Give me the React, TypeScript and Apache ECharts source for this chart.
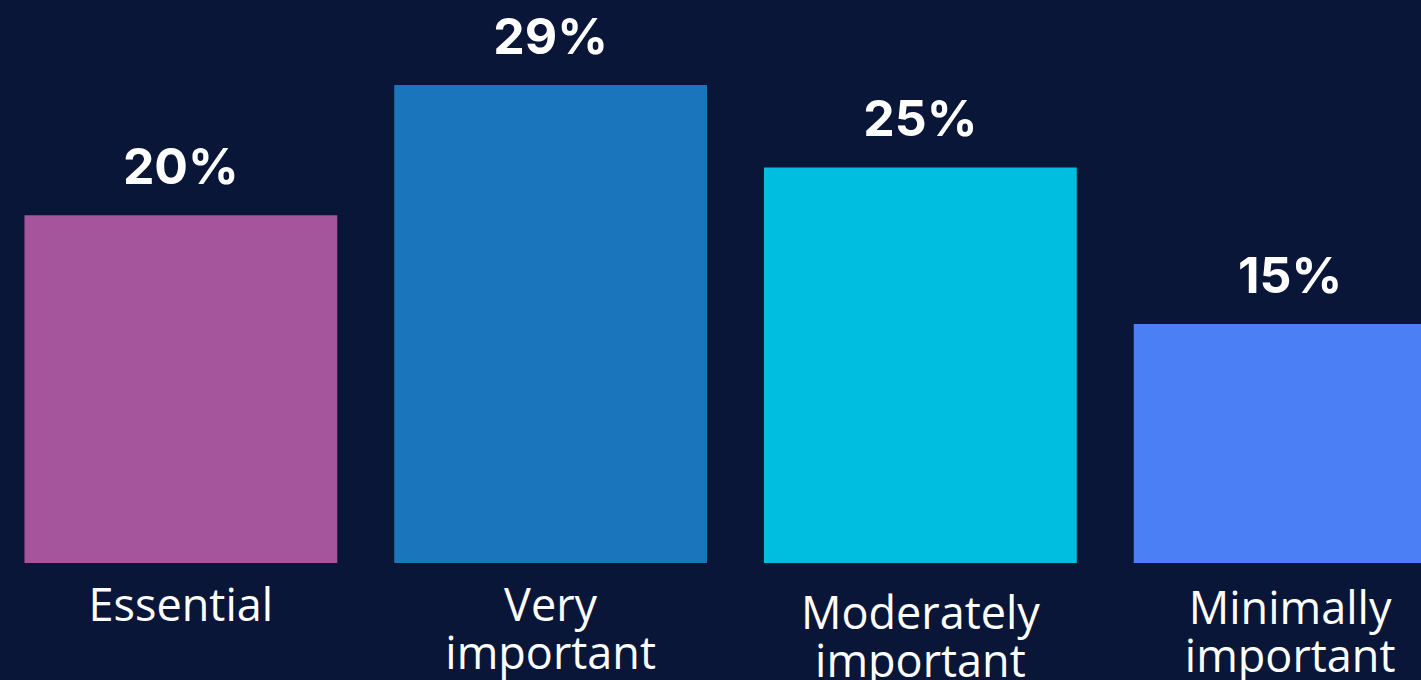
import React, { useEffect, useRef } from "react";
import * as echarts from "echarts";

const categories = ["Essential", "Very\nimportant", "Moderately\nimportant", "Minimally\nimportant"];
const values = [21.1, 29, 24, 14.5];
const valueLabels = ["20%", "29%", "25%", "15%"];
const colors = ["#a4559b", "#1b75bc", "#00bedf", "#4b7ff5"];
const labelOffsets = [0, 0, 8, 3];

export default function App() {
  const ref = useRef<HTMLDivElement>(null);
  useEffect(() => {
    if (!ref.current) return;
    document.body.style.margin = "0";
    document.body.style.overflow = "hidden";
    const chart = echarts.init(ref.current, null, { renderer: "svg" });
    chart.setOption({
      animation: false,
      backgroundColor: "#0a1638",
      grid: {
        left: 0,
        right: 0,
        top: 68.5,
        bottom: 117,
        containLabel: false,
        outerBoundsMode: "none",
      },
      xAxis: {
        type: "category",
        data: categories.map((c, i) => ({
          value: c,
          textStyle: { padding: [labelOffsets[i], 0, 0, 0] },
        })),
        axisLine: { show: false },
        axisTick: { show: false },
        axisLabel: {
          color: "#ffffff",
          fontFamily: "Open Sans",
          fontSize: 45,
          lineHeight: 48,
          margin: 16,
          interval: 0,
        },
      },
      yAxis: {
        type: "value",
        min: 0,
        max: 30,
        show: false,
        splitLine: { show: false },
      },
      series: [
        {
          type: "bar",
          barCategoryGap: "15.4%",
          data: values.map((v, i) => ({ value: v, itemStyle: { color: colors[i] } })),
          label: {
            show: true,
            position: "top",
            distance: 24,
            color: "#ffffff",
            fontFamily: "Inter",
            fontWeight: "bold",
            fontSize: 50,
            formatter: (p: any) => valueLabels[p.dataIndex],
          },
        },
      ],
    });
    return () => chart.dispose();
  }, []);
  return (
    <div
      ref={ref}
      style={{ position: "fixed", left: -4.5, top: 0, width: 1479, height: 680 }}
    />
  );
}
